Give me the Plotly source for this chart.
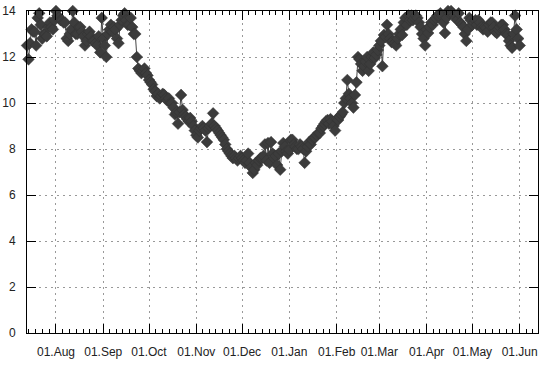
import datetime as dt
import plotly.graph_objects as go

start_date = "2018-07-13"
values = [
    12.5, 11.9, 12.6, 13.2, 13.1, 13.1, 12.5, 13.7, 13.9, 13.4,
    12.8, 13.0, 13.0, 12.9, 13.3, 13.5, 13.3, 13.2, 13.6, 14.0,
    13.8, 13.7, 13.6, 13.6, 13.5, 13.5, 12.8, 12.7, 13.0, 13.2,
    14.0, 13.5, 13.0, 13.0, 13.3, 13.3, 13.1, 12.9, 12.5, 12.7,
    13.0, 13.1, 12.9, 12.7, 12.7, 12.6, 12.5, 12.9, 12.2, 13.7,
    12.8, 12.5, 12.0, 13.0, 13.2, 13.4, 13.1, 13.3, 13.2, 12.8,
    12.6, 13.4, 13.6, 13.8, 13.9, 13.6, 13.4, 13.4, 13.7, 13.3,
    13.0, 13.0, 12.0, 11.5, 11.4, 11.3, 11.4, 11.5, 11.3, 11.2,
    11.0, 10.9, 10.8, 10.6, 10.5, 10.3, 10.4, 10.2, 10.3, 10.4,
    10.35, 10.2, 10.1, 10.2, 10.0, 10.0, 9.8, 9.5, 9.6, 9.1,
    9.6, 10.35, 9.7, 9.5, 9.4, 9.3, 9.2, 9.35, 9.2, 9.0,
    8.8, 8.6, 8.5, 8.8, 8.9, 9.0, 8.9, 8.8, 8.3, 8.9,
    9.0, 9.1, 9.55, 9.0, 8.9, 8.8, 8.7, 8.6, 8.5, 8.4,
    8.2, 8.0, 7.9, 7.8, 7.7, 7.6, 7.7, 7.6, 7.5, 7.6,
    7.7, 7.6, 7.5, 7.4, 7.5, 7.8, 7.4, 7.2, 6.96, 7.1,
    7.4, 7.3, 7.5, 7.6, 7.6, 7.7, 8.2, 7.5, 8.26, 7.4,
    8.3, 7.8, 7.6, 7.7, 7.3, 7.8, 7.1, 7.9, 8.26, 8.1,
    7.9, 7.8, 7.96, 8.4, 8.4, 8.2, 8.1, 8.0, 8.0, 8.2,
    8.1, 8.0, 7.4, 7.9, 8.1, 8.3, 8.2, 8.4, 8.5, 8.5,
    8.6, 8.7, 8.7, 8.9, 9.0, 9.1, 9.2, 9.26, 9.1, 9.3,
    9.2, 9.0, 8.8, 9.3, 9.26, 9.4, 9.5, 9.6, 10.0, 10.2,
    11.0, 10.4, 10.2, 10.0, 9.8, 10.35, 10.9, 12.0, 11.9, 11.7,
    11.4, 11.6, 11.8, 12.0, 11.4, 11.7, 12.0, 12.2, 11.96, 12.1,
    12.3, 12.5, 12.7, 11.6, 12.96, 12.87, 13.4, 13.0, 12.8, 12.65,
    12.7, 12.6, 12.5, 12.8, 13.0, 13.2, 12.96, 13.5, 13.7, 13.4,
    13.8, 13.6, 13.8, 13.6, 13.7, 13.8, 13.7, 13.5, 13.3, 13.0,
    12.8, 12.5, 13.2, 13.04, 13.3, 13.5, 13.4, 13.6, 13.7, 13.8,
    13.8, 13.9, 13.8, 13.5, 13.04, 13.7, 14.0, 13.9, 14.0, 13.9,
    13.8, 13.7, 13.6, 13.9, 13.5, 13.4, 13.3, 13.0, 12.7, 13.2,
    13.7, 13.6, 13.4, 13.5, 13.6, 13.4, 13.6, 13.5, 13.3, 13.2,
    13.3, 13.26, 13.1, 13.4, 13.5, 13.5, 13.3, 13.1, 13.04, 13.2,
    13.3, 13.4, 13.4, 13.2, 13.0, 12.96, 12.7, 12.5, 12.4, 13.0,
    13.8, 13.2, 12.8, 12.5,
]
x_range = ["2018-07-13", "2019-06-13"]
y_ticks = [0, 2, 4, 6, 8, 10, 12, 14]

d0 = dt.date.fromisoformat(start_date)
dates = [d0 + dt.timedelta(days=i) for i in range(len(values))]

# minor ticks: each month split into 7 intervals
minor_vals = []
m = dt.date(2018, 7, 1)
while m < dt.date(2019, 7, 1):
    nm = dt.date(m.year + (m.month // 12), m.month % 12 + 1, 1)
    span = (nm - m).days
    for k in range(1, 7):
        minor_vals.append(dt.datetime.combine(m, dt.time()) + dt.timedelta(days=span * k / 7))
    m = nm

fig = go.Figure()
fig.add_trace(go.Scatter(
    x=dates, y=values, mode="lines+markers",
    line=dict(color="#444444", width=1),
    marker=dict(symbol="diamond", size=9, color="#3c3c3c",
                line=dict(color="#333333", width=0.5)),
    cliponaxis=False, showlegend=False,
))

font = dict(family="Liberation Sans, Arial, sans-serif", size=12, color="#222222")
fig.update_layout(
    width=550, height=368,
    margin=dict(l=27, r=12, t=11, b=35),
    paper_bgcolor="white", plot_bgcolor="white",
    font=font,
    xaxis=dict(
        type="date", range=x_range, automargin=False,
        tickmode="linear", tick0="2018-08-01", dtick="M1",
        tickformat="%d.%b",
        ticks="inside", ticklen=9, tickwidth=1, tickcolor="black",
        showline=True, linecolor="black", linewidth=1, mirror="allticks",
        showgrid=True, gridcolor="#999999", gridwidth=1, griddash="2px,4px",
        zeroline=False, ticklabelstandoff=8,
        minor=dict(tickmode="array", tickvals=minor_vals, ticks="inside",
                   ticklen=4, tickcolor="black", tickwidth=1, showgrid=False),
    ),
    yaxis=dict(
        range=[0, 14], tickmode="array", tickvals=y_ticks, automargin=False,
        ticks="inside", ticklen=9, tickwidth=1, tickcolor="black",
        showline=True, linecolor="black", linewidth=1, mirror="allticks",
        showgrid=True, gridcolor="#999999", gridwidth=1, griddash="2px,4px",
        zeroline=False, ticklabelstandoff=8,
    ),
)
fig.write_html("out.html", config={"displayModeBar": False},
               post_script="document.body.style.margin='0px';")
